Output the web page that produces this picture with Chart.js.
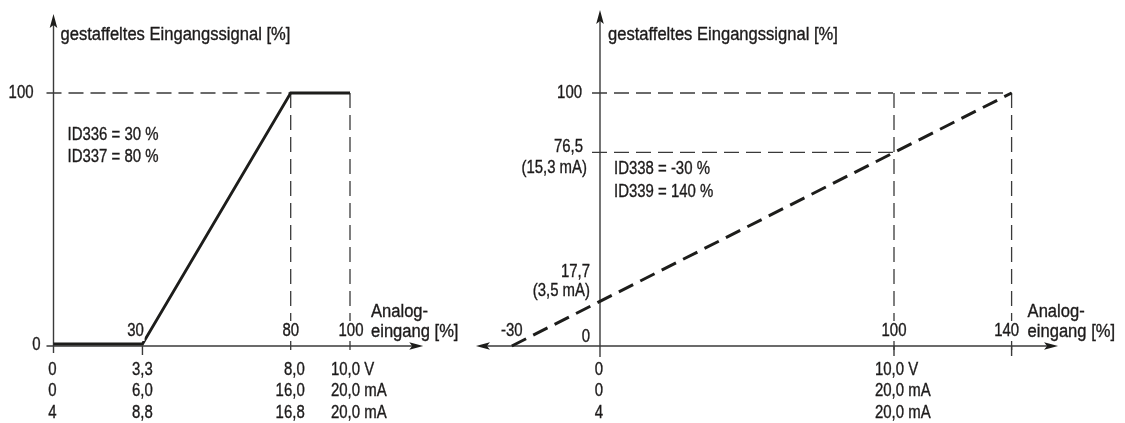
<!DOCTYPE html>
<html><head><meta charset="utf-8">
<script src="https://cdn.jsdelivr.net/npm/chart.js@4.4.1/dist/chart.umd.min.js"></script>
<style>
html,body{margin:0;padding:0;background:#fff;}
#wrap{position:relative;width:1125px;height:423px;overflow:hidden;}
#c1{position:absolute;left:0;top:0;}
#c2{position:absolute;left:470px;top:0;}
</style></head><body>
<div id="wrap"><canvas id="c1" width="470" height="423"></canvas><canvas id="c2" width="655" height="423"></canvas></div>
<script>
// ---------- data ----------
const yTitle = 'gestaffeltes Eingangssignal [%]';
const xTitle = ['Analog-', 'eingang [%]'];

// left diagram
const leftInput = [0, 30, 80, 100];
const leftScaled = [0, 0, 100, 100];
const leftTickValues = [30, 80, 100];
const leftTickLabels = ['30', '80', '100'];
const leftYValues = [100, 0];
const leftYLabels = ['100', '0'];
const leftRowValues = [0, 30, 80, 100];
const leftRowVolt = ['0', '3,3', '8,0', '10,0 V'];
const leftRowmA0 = ['0', '6,0', '16,0', '20,0 mA'];
const leftRowmA4 = ['4', '8,8', '16,8', '20,0 mA'];
const leftParams = ['ID336 = 30 %', 'ID337 = 80 %'];

// right diagram
const rightInput = [-30, 140];
const rightScaled = [0, 100];
const rightTickValues = [-30, 100, 140];
const rightTickLabels = ['-30', '100', '140'];
const rightYValues = [100, 76.5, 17.7, 0];
const rightYLabels = ['100', '76,5', '17,7', '0'];
const rightYSub = ['', '(15,3 mA)', '(3,5 mA)', ''];
const rightRowValues = [0, 100];
const rightRowVolt = ['0', '10,0 V'];
const rightRowmA0 = ['0', '20,0 mA'];
const rightRowmA4 = ['4', '20,0 mA'];
const rightParams = ['ID338 = -30 %', 'ID339 = 140 %'];

// ---------- styles ----------
const FONT = '18px "Liberation Sans", Arial, sans-serif';
const SX_WORD = 0.92;
const SX_NUM = 0.83;
const INK = '#1d1b1b';
const AXIS = '#3a3a3a';
const GUIDE_DASH = [15, 7];

function seg(ctx, x1, y1, x2, y2, w, color, dash) {
  ctx.save();
  ctx.beginPath();
  ctx.lineWidth = w;
  ctx.strokeStyle = color;
  ctx.setLineDash(dash || []);
  ctx.moveTo(x1, y1);
  ctx.lineTo(x2, y2);
  ctx.stroke();
  ctx.restore();
}
function arrow(ctx, tx, ty, dir) {
  const L = 14, H = 3.8;
  ctx.save();
  ctx.fillStyle = '#1d1d1b';
  ctx.beginPath();
  if (dir === 'up') { ctx.moveTo(tx, ty); ctx.lineTo(tx - H, ty + L); ctx.lineTo(tx, ty + L - 3); ctx.lineTo(tx + H, ty + L); }
  if (dir === 'right') { ctx.moveTo(tx, ty); ctx.lineTo(tx - L, ty - H); ctx.lineTo(tx - L + 3, ty); ctx.lineTo(tx - L, ty + H); }
  if (dir === 'left') { ctx.moveTo(tx, ty); ctx.lineTo(tx + L, ty - H); ctx.lineTo(tx + L - 3, ty); ctx.lineTo(tx + L, ty + H); }
  ctx.closePath();
  ctx.fill();
  ctx.restore();
}
function txt(ctx, s, x, y, align, sx, knockout) {
  sx = sx || SX_NUM;
  ctx.save();
  ctx.font = FONT;
  ctx.textAlign = align || 'left';
  ctx.textBaseline = 'middle';
  ctx.translate(x, y);
  ctx.scale(sx, 1);
  if (knockout) {
    const w = ctx.measureText(s).width;
    let left = align === 'center' ? -w / 2 : (align === 'right' ? -w : 0);
    ctx.fillStyle = '#fff';
    ctx.fillRect(left - 1, -10, w + 2, 20);
  }
  ctx.fillStyle = INK;
  ctx.strokeStyle = INK;
  ctx.lineWidth = 0.35;
  ctx.fillText(s, 0, 0);
  ctx.strokeText(s, 0, 0);
  ctx.restore();
}
const ROW_Y = [370, 391, 413];

// ---------- left chart ----------
const leftPlugin = {
  id: 'leftDeco',
  beforeDatasetsDraw(chart) {
    const ctx = chart.ctx, xs = chart.scales.x, ys = chart.scales.y;
    const x0 = xs.getPixelForValue(0), y0 = ys.getPixelForValue(0), y100 = ys.getPixelForValue(100);
    const axisY = y0 + 2;
    seg(ctx, x0 - 7, y100, xs.getPixelForValue(80), y100, 1.3, AXIS, GUIDE_DASH);
    [80, 100].forEach(v => {
      const px = xs.getPixelForValue(v);
      seg(ctx, px, y100, px, axisY + 10, 1.3, AXIS, GUIDE_DASH);
    });
    const xEnd = xs.getPixelForValue(124.7);
    seg(ctx, x0 - 7, axisY, xEnd - 8, axisY, 1.4, AXIS);
    arrow(ctx, xEnd, axisY, 'right');
    const yTop = ys.getPixelForValue(131.5);
    seg(ctx, x0, axisY + 7, x0, yTop + 8, 1.4, AXIS);
    arrow(ctx, x0, yTop, 'up');
    const x30 = xs.getPixelForValue(30);
    seg(ctx, x30, axisY, x30, axisY + 9, 1.4, AXIS);
  },
  afterDatasetsDraw(chart) {
    const ctx = chart.ctx, xs = chart.scales.x, ys = chart.scales.y;
    const x0 = xs.getPixelForValue(0);
    txt(ctx, yTitle, x0 + 7, 35, 'left', SX_WORD);
    txt(ctx, leftYLabels[0], x0 - 20, ys.getPixelForValue(leftYValues[0]), 'right');
    txt(ctx, leftYLabels[1], x0 - 13, ys.getPixelForValue(leftYValues[1]) + 1, 'right');
    const offs = [-7, 0, 1];
    leftTickValues.forEach((v, i) => txt(ctx, leftTickLabels[i], xs.getPixelForValue(v) + offs[i], 331, 'center', SX_NUM, true));
    const x100 = xs.getPixelForValue(100);
    txt(ctx, xTitle[0], x100 + 21, 312, 'left', SX_WORD);
    txt(ctx, xTitle[1], x100 + 21, 332, 'left', SX_WORD);
    txt(ctx, leftParams[0], x0 + 14, 135, 'left');
    txt(ctx, leftParams[1], x0 + 14, 157, 'left');
    const rows = [leftRowVolt, leftRowmA0, leftRowmA4];
    rows.forEach((row, r) => {
      row.forEach((s, i) => {
        const px = xs.getPixelForValue(leftRowValues[i]);
        if (i === 0) txt(ctx, s, px - 1, ROW_Y[r], 'center');
        else if (i === 1) txt(ctx, s, px, ROW_Y[r], 'center');
        else if (i === 2) txt(ctx, s, px + 14, ROW_Y[r], 'right');
        else txt(ctx, s, px - 19, ROW_Y[r], 'left');
      });
    });
  }
};

new Chart(document.getElementById('c1'), {
  type: 'line',
  data: {
    datasets: [{
      data: leftInput.map((x, i) => ({ x: x, y: leftScaled[i] })),
      borderColor: '#1d1d1b',
      borderWidth: 2.8,
      pointRadius: 0,
      tension: 0,
      fill: false,
      clip: false,
      borderJoinStyle: 'miter'
    }]
  },
  options: {
    responsive: false,
    animation: false,
    events: [],
    layout: { padding: { left: 53.5, right: 470 - 350, top: 93, bottom: 423 - 344 } },
    scales: {
      x: { type: 'linear', min: 0, max: 100, display: false },
      y: { type: 'linear', min: 0, max: 100, display: false }
    },
    plugins: { legend: { display: false }, tooltip: { enabled: false } }
  },
  plugins: [leftPlugin]
});

// ---------- right chart ----------
const rightPlugin = {
  id: 'rightDeco',
  beforeDatasetsDraw(chart) {
    const ctx = chart.ctx, xs = chart.scales.x, ys = chart.scales.y;
    const x0 = xs.getPixelForValue(0), y0 = ys.getPixelForValue(0);
    const y100 = ys.getPixelForValue(100), y765 = ys.getPixelForValue(76.5);
    const x100 = xs.getPixelForValue(100), x140 = xs.getPixelForValue(140);
    seg(ctx, x0 - 8, y100, x140, y100, 1.3, AXIS, GUIDE_DASH);
    seg(ctx, x0 - 8, y765, x100, y765, 1.3, AXIS, GUIDE_DASH);
    seg(ctx, x100, y100, x100, y0 + 10, 1.3, AXIS, GUIDE_DASH);
    seg(ctx, x140, y100, x140, y0 + 10, 1.3, AXIS, GUIDE_DASH);
    const xL = xs.getPixelForValue(-42.2), xR = xs.getPixelForValue(155.8);
    seg(ctx, xL + 8, y0, xR - 8, y0, 1.4, AXIS);
    arrow(ctx, xR, y0, 'right');
    arrow(ctx, xL, y0, 'left');
    const yTop = ys.getPixelForValue(132.8);
    seg(ctx, x0, y0 + 11, x0, yTop + 8, 1.4, AXIS);
    arrow(ctx, x0, yTop, 'up');
    seg(ctx, x100, y0, x100, y0 + 10, 1.4, AXIS);
    seg(ctx, x140, y0, x140, y0 + 10, 1.4, AXIS);
  },
  afterDatasetsDraw(chart) {
    const ctx = chart.ctx, xs = chart.scales.x, ys = chart.scales.y;
    const x0 = xs.getPixelForValue(0);
    txt(ctx, yTitle, x0 + 8, 35, 'left', SX_WORD);
    txt(ctx, rightYLabels[0], x0 - 18, ys.getPixelForValue(rightYValues[0]), 'right');
    txt(ctx, rightYLabels[1], x0 - 17, ys.getPixelForValue(rightYValues[1]) - 5, 'right');
    txt(ctx, rightYSub[1], x0 - 13, ys.getPixelForValue(rightYValues[1]) + 16, 'right');
    txt(ctx, rightYLabels[2], x0 - 10, ys.getPixelForValue(rightYValues[2]) - 29, 'right');
    txt(ctx, rightYSub[2], x0 - 10, ys.getPixelForValue(rightYValues[2]) - 10, 'right');
    txt(ctx, rightYLabels[3], x0 - 10, ys.getPixelForValue(rightYValues[3]) - 9, 'right');
    rightTickValues.forEach((v, i) => {
      const px = xs.getPixelForValue(v);
      txt(ctx, rightTickLabels[i], px + (i === 2 ? -5 : 0), 331, 'center', SX_NUM, i > 0);
    });
    const x140 = xs.getPixelForValue(140);
    txt(ctx, xTitle[0], x140 + 16, 312, 'left', SX_WORD);
    txt(ctx, xTitle[1], x140 + 16, 332, 'left', SX_WORD);
    txt(ctx, rightParams[0], x0 + 14, 169, 'left');
    txt(ctx, rightParams[1], x0 + 14, 192, 'left');
    const rows = [rightRowVolt, rightRowmA0, rightRowmA4];
    rows.forEach((row, r) => {
      row.forEach((s, i) => {
        const px = xs.getPixelForValue(rightRowValues[i]);
        if (i === 0) txt(ctx, s, px - 1, ROW_Y[r], 'center');
        else txt(ctx, s, px - 19, ROW_Y[r], 'left');
      });
    });
  }
};

const RX0 = 130, RPX = 2.94;
new Chart(document.getElementById('c2'), {
  type: 'line',
  data: {
    datasets: [{
      data: rightInput.map((x, i) => ({ x: x, y: rightScaled[i] })),
      borderColor: '#1d1d1b',
      borderWidth: 3,
      borderDash: [16, 8],
      pointRadius: 0,
      tension: 0,
      fill: false,
      clip: false
    }]
  },
  options: {
    responsive: false,
    animation: false,
    events: [],
    layout: { padding: { left: RX0 - 30 * RPX, right: 655 - (RX0 + 140 * RPX), top: 93, bottom: 423 - 346 } },
    scales: {
      x: { type: 'linear', min: -30, max: 140, display: false },
      y: { type: 'linear', min: 0, max: 100, display: false }
    },
    plugins: { legend: { display: false }, tooltip: { enabled: false } }
  },
  plugins: [rightPlugin]
});
</script>
</body></html>
